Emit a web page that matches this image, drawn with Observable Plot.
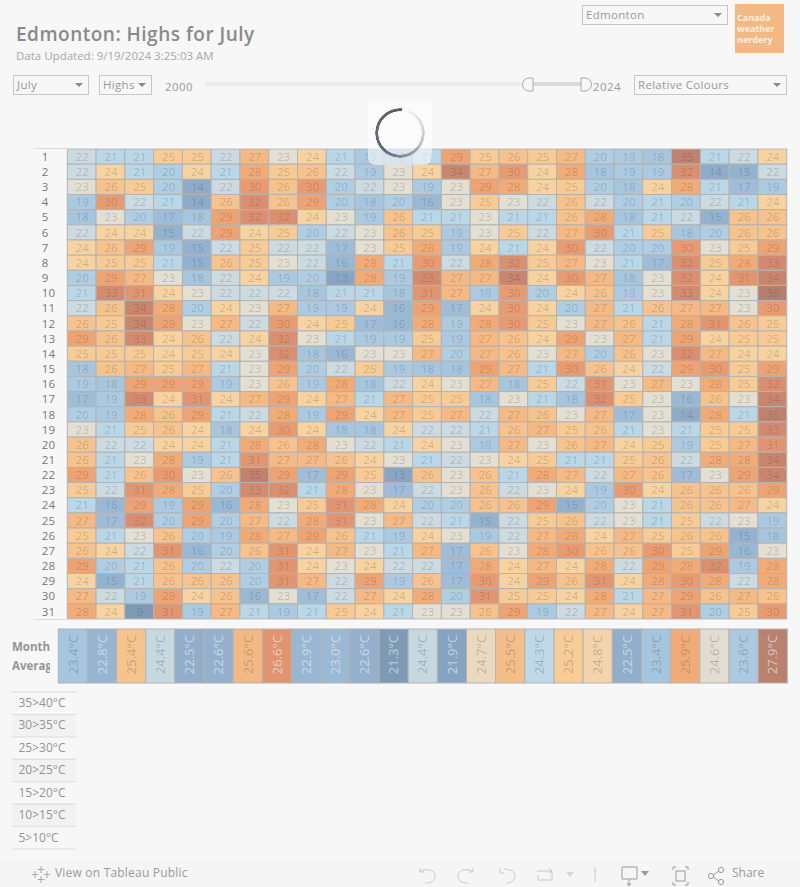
<!DOCTYPE html>
<html><head><meta charset="utf-8">
<script src="https://cdn.jsdelivr.net/npm/d3@7"></script>
<script src="https://cdn.jsdelivr.net/npm/@observablehq/plot@0.6"></script>
<style>
html,body{margin:0;padding:0;background:#f7f7f7;width:800px;height:887px;overflow:hidden;font-family:"Open Sans",sans-serif;color:#8a8a8a}
.dd{position:absolute;box-sizing:border-box;border:1px solid #c6c6c6;height:20px;font:11.5px/18px "Open Sans",sans-serif;color:#9a9a9a;padding-left:3px;letter-spacing:.3px}
.dd:after{content:"";position:absolute;right:5px;top:7px;border-left:4px solid transparent;border-right:4px solid transparent;border-top:4px solid #8a8a8a}
svg{display:block;overflow:visible}
</style></head><body>
<div id="root"></div>
<script>
const years = d3.range(2000, 2025);
const days = d3.range(1, 32);
const highs = [
[22,21,21,25,25,22,27,23,24,21,19,18,21,29,25,26,25,27,20,19,18,35,21,22,24],
[22,24,21,20,24,21,28,25,26,22,19,23,24,34,27,30,24,28,18,19,19,32,14,15,22],
[23,26,25,20,14,22,30,26,30,20,22,23,19,23,29,28,24,25,20,18,24,28,21,17,19],
[19,30,22,21,14,26,32,26,29,20,18,20,16,23,25,23,22,26,22,20,21,20,22,21,24],
[18,23,20,17,18,29,32,32,24,23,19,26,21,21,23,21,21,26,28,18,21,22,15,26,26],
[22,24,24,15,22,29,24,25,20,22,23,26,25,19,23,25,22,27,30,21,25,18,20,26,26],
[24,26,29,19,15,22,25,22,22,17,23,25,28,19,24,21,24,30,22,20,20,30,23,25,29],
[24,25,25,21,15,26,25,23,22,16,28,21,30,22,28,32,25,27,23,21,17,32,25,28,33],
[20,29,27,23,18,22,24,19,20,13,28,19,33,27,27,34,24,30,27,18,23,32,24,31,34],
[21,33,31,24,23,22,22,22,18,21,21,18,31,27,19,30,20,24,26,19,23,33,24,23,36],
[22,26,34,28,20,24,23,27,19,19,24,16,29,17,24,30,24,20,27,21,26,27,27,23,30],
[26,25,34,29,23,27,22,30,24,25,17,16,28,19,28,30,25,23,27,26,21,28,31,26,25],
[29,26,33,24,26,22,24,32,23,21,19,19,25,19,27,26,24,29,23,27,21,29,24,25,25],
[25,25,25,24,25,24,23,32,18,16,23,23,27,20,27,26,23,27,20,26,23,32,27,24,24],
[18,26,27,25,27,21,23,29,20,22,25,19,18,18,29,27,21,30,26,24,22,29,30,25,29],
[19,18,29,29,29,19,23,26,19,28,18,22,24,23,27,18,25,22,31,23,27,23,28,25,32],
[17,19,33,24,31,24,27,29,24,27,21,27,25,25,18,23,21,18,32,25,23,16,26,23,34],
[20,19,28,26,29,21,22,28,19,29,24,27,25,27,22,27,26,23,27,17,23,14,28,21,35],
[23,21,25,26,24,18,24,30,24,18,18,24,22,22,21,26,27,25,26,21,23,21,25,25,33],
[26,22,22,24,24,21,28,26,28,23,22,21,24,23,19,27,23,26,27,24,25,19,25,27,31],
[26,21,23,28,19,21,31,27,27,26,24,23,21,22,23,24,25,21,21,25,26,22,28,28,34],
[29,21,26,30,23,26,35,29,17,29,25,13,26,23,26,21,28,27,22,27,26,17,23,29,34],
[25,22,31,28,25,20,33,32,21,28,23,17,22,23,26,22,23,24,19,30,24,26,26,26,29],
[21,16,29,19,29,16,28,23,25,31,28,24,20,20,26,26,29,15,20,23,21,26,26,27,24],
[27,17,32,20,29,20,27,22,28,31,23,27,22,21,15,22,25,26,22,23,21,25,22,23,19],
[25,21,23,26,20,19,28,27,29,26,21,19,24,23,19,22,27,28,24,27,25,26,26,15,18],
[26,24,22,31,16,20,26,31,24,27,23,21,27,17,26,23,28,30,26,26,30,25,29,16,23],
[29,20,21,26,20,22,20,31,24,23,24,22,22,17,28,24,27,24,28,22,29,28,32,19,28],
[24,15,21,26,26,26,20,31,27,22,29,19,26,17,30,24,29,26,31,24,28,30,28,22,28],
[27,22,19,29,24,26,16,23,17,22,27,24,28,20,31,25,25,24,28,21,27,29,26,27,26],
[28,24,9,31,19,27,21,19,21,25,24,21,23,23,26,29,19,22,27,24,27,31,20,25,30]
];
const monthAverages = [23.4,22.8,25.4,24.4,22.5,22.6,25.6,26.6,22.9,23.0,22.6,21.3,24.4,21.9,24.7,25.5,24.3,25.2,24.8,22.5,23.4,25.9,24.6,23.6,27.9];
const bands = ["35>40°C","30>35°C","25>30°C","20>25°C","15>20°C","10>15°C","5>10°C"];
const cellDomain = [9,13,15,17,18,20,21,22,23,24,25,27,28,30,32,34,36];
const cellRange = ["#7d99b5","#88a6c3","#93b2cf","#9fbdd8","#a6c6de","#afcee4","#b9d7e7","#cbdbe1","#e4dfd3","#f8d3a2","#f7cb95","#f4b985","#f1ab77","#e89b71","#da9070","#c9866f","#b67e6e"];
const avgDomain = [21.3,21.9,22.5,23.0,23.4,23.6,24.3,24.4,24.6,24.8,25.2,25.6,25.9,26.6,27.9];
const avgRange = ["#7f9ab5","#87a3c2","#92aecb","#9bb9d4","#a6c5de","#acc9e0","#c0d8e6","#c6d9e1","#e2ddd0","#f3d4ad","#f7cc97","#f3b985","#f0ab79","#e09570","#bb816f"];

const cells = highs.flatMap((row, i) => row.map((value, j) => ({day: days[i], year: years[j], value})));
const averages = monthAverages.map((value, j) => ({year: years[j], value}));
const root = document.getElementById("root");
function place(el, left, top){ el.style.position="absolute"; el.style.left=left+"px"; el.style.top=top+"px"; root.appendChild(el); return el; }
function div(css, html){ const d=document.createElement("div"); d.style.cssText="position:absolute;"+css; if(html!=null) d.innerHTML=html; root.appendChild(d); return d; }

// main grid
place(Plot.plot({
  width: 800, height: 626, style:{background:"transparent",fontFamily:"'Open Sans',sans-serif",overflow:"visible"},
  marginLeft: 67.3, marginRight: 13.3, marginTop: 149, marginBottom: 7,
  x:{type:"band",domain:years,axis:null,padding:0,round:false},
  y:{type:"band",domain:days,padding:0,round:false,label:null},
  color:{type:"linear",domain:cellDomain,range:cellRange,interpolate:"rgb"},
  marks:[
    Plot.axisY({anchor:"left",tickSize:0,textAnchor:"start",dx:-20,tickPadding:6,fontSize:11.5,fill:"#777",label:null}),
    Plot.cell(cells,{x:"year",y:"day",fill:"value",stroke:"#b3b3b3",strokeWidth:1}),
    Plot.text(cells,{x:"year",y:"day",text:"value",fill:"#333",fillOpacity:0.22,fontSize:11.5})
  ]
}),0,0);
div("left:35px;top:148px;width:752px;height:1px;background:#dcdcdc");
div("left:35px;top:619px;width:752px;height:1px;background:#dcdcdc");

// month averages
const light = d => d.value < 23.2 || d.value > 26.3;
place(Plot.plot({
  width: 800, height: 56, style:{background:"transparent",fontFamily:"'Open Sans',sans-serif"},
  marginLeft: 58.3, marginRight: 12.7, marginTop: 1, marginBottom: 1,
  x:{type:"band",domain:years,axis:null,padding:0,round:false},
  y:{axis:null,domain:[0,1]},
  color:{type:"linear",domain:avgDomain,range:avgRange,interpolate:"rgb"},
  marks:[
    Plot.cell(averages,{x:"year",fill:"value",stroke:"#b3b3b3",strokeWidth:1}),
    Plot.text(averages,{x:"year",frameAnchor:"middle",dy:-2,rotate:-90,text:d=>d.value.toFixed(1)+"°C",fill:"#333",fillOpacity:0.26,fontSize:13,filter:d=>!light(d)}),
    Plot.text(averages,{x:"year",frameAnchor:"middle",dy:-2,rotate:-90,text:d=>d.value.toFixed(1)+"°C",fill:"#eaf1f6",fillOpacity:0.62,fontSize:13,filter:light})
  ]
}),0,627.5);
div("left:12px;top:638px;width:38px;height:36px;overflow:hidden;font:bold 11.5px/18.5px 'Open Sans',sans-serif;color:#959595;white-space:nowrap","Month<br>Average");

// banded legend table
const rows = bands.map((label,i)=>({label,i}));
place(Plot.plot({
  width: 64, height: 158, style:{background:"transparent",fontFamily:"'Open Sans',sans-serif"},
  margin:0, marginTop:0.5, marginBottom:0.5,
  x:{axis:null,domain:[0,1]},
  y:{axis:null,domain:[7,0]},
  marks:[
    Plot.rect(rows.filter(r=>r.i%2),{x1:0,x2:1,y1:"i",y2:d=>d.i+1,fill:"#f2f2f2"}),
    Plot.ruleY(d3.range(8),{stroke:"#dcdcdc"}),
    Plot.text(rows,{x:0,y:d=>d.i+.5,text:"label",dx:6,textAnchor:"start",fill:"#939393",fontSize:12})
  ]
}),12,690.5);

// header
div("left:16px;top:21px;font:600 19px/26px 'Open Sans',sans-serif;color:#8a8a8a;letter-spacing:.5px;white-space:nowrap","Edmonton: Highs for July");
div("left:16px;top:48px;font:11.5px/16px 'Open Sans',sans-serif;color:#a8a8a8;white-space:nowrap","Data Updated: 9/19/2024 3:25:03 AM");
function dd(l,t,w,txt){ const d=div("",txt); d.className="dd"; d.style.left=l+"px"; d.style.top=t+"px"; d.style.width=w+"px"; }
dd(582,5,146,"Edmonton");
dd(13,75,76,"July");
dd(99,75,53,"Highs");
dd(634,75,153,"Relative Colours");
div("left:735px;top:4px;width:49px;height:49px;background:#f3b985;color:#fbeee0;font:bold 9px/11px 'Open Sans',sans-serif;padding:8px 0 0 2px;box-sizing:border-box","Canada<br>weather<br>nerdery");
div("left:165px;top:79px;font:11.5px/16px 'Open Sans',sans-serif;color:#9a9a9a;letter-spacing:.4px","2000");
div("left:593px;top:79px;font:11.5px/16px 'Open Sans',sans-serif;color:#9a9a9a;letter-spacing:.4px","2024");
div("left:205px;top:82px;width:382px;height:4px;background:#ececec");
div("left:530px;top:82px;width:54px;height:4px;background:#d9d9d9");
div("left:0;top:0;pointer-events:none",`<svg width="800" height="110" style="position:absolute;left:0;top:0">
<path d="M533 78h-4a6.5 6.5 0 0 0 0 13h4z" fill="#f7f7f7" stroke="#aaa"/>
<path d="M581 78h4a6.5 6.5 0 0 1 0 13h-4z" fill="#f7f7f7" stroke="#aaa"/></svg>`);

// loading spinner
div("left:368px;top:100px;width:64px;height:65px;border-radius:8px;background:rgba(255,255,255,.55)");
div("left:375px;top:107.5px;width:50px;height:50px;border-radius:50%;background:conic-gradient(from 6deg,rgba(86,94,108,0) 0%,rgba(86,94,108,.35) 30%,rgba(86,94,108,.9) 60%,#565e6c 100%);-webkit-mask:radial-gradient(circle,transparent 21.5px,#000 22px,#000 24.5px,transparent 25px);mask:radial-gradient(circle,transparent 21.5px,#000 22px,#000 24.5px,transparent 25px)");

// footer
div("left:0;top:861px;width:800px;height:26px;background:#f5f5f5");
div("left:55px;top:865px;font:12px/16px 'Open Sans',sans-serif;color:#9a9a9a;letter-spacing:.2px;white-space:nowrap","View on Tableau Public");
div("left:732px;top:865px;font:12px/16px 'Open Sans',sans-serif;color:#9a9a9a","Share");
div("left:0;top:861px",`<svg width="800" height="26" fill="none" stroke="#c8c8c8" stroke-width="1">
<g stroke="#a8a8a8"><path d="M41 5v7M37.5 8.5h7M41 15v7M37.5 18.5h7M35 10v7M32 13.5h6M47 10v7M44 13.5h6"/></g>
<path d="M420 7v4h4M420 11c5-4 15-3 15 4s-7 7-10 7"/>
<path d="M473 7v4h-4M473 11c-5-4-15-3-15 4s7 7 10 7"/>
<path d="M500 7v5h4M504 8c5 0 11 2 11 7s-5 7-9 7"/>
<path d="M537 10h15v9h-14v-5M552 10l-3-3M552 10l-3 2"/>
<path d="M566 11l4 5 4-5z" fill="#d5d5d5" stroke="none"/><path d="M595 6v15"/>
<g stroke="#9a9a9a"><path d="M622 6h15v12h-15zM629 18v6M627 22l2 3 2-3"/></g><path d="M641 10l4 5 4-5z" fill="#9a9a9a" stroke="none"/>
<g stroke="#9a9a9a"><path d="M673 6h3M685 6h3M673 24h3M685 24h3M673 6v3M688 6v3M673 21v3M688 21v3"/><rect x="676" y="10" width="9" height="10"/>
<circle cx="711" cy="15" r="2.6"/><circle cx="721" cy="9" r="2.6"/><circle cx="721" cy="21" r="2.6"/><path d="M713 14l6-4M713 16l6 4"/></g></svg>`);
</script>
</body></html>
